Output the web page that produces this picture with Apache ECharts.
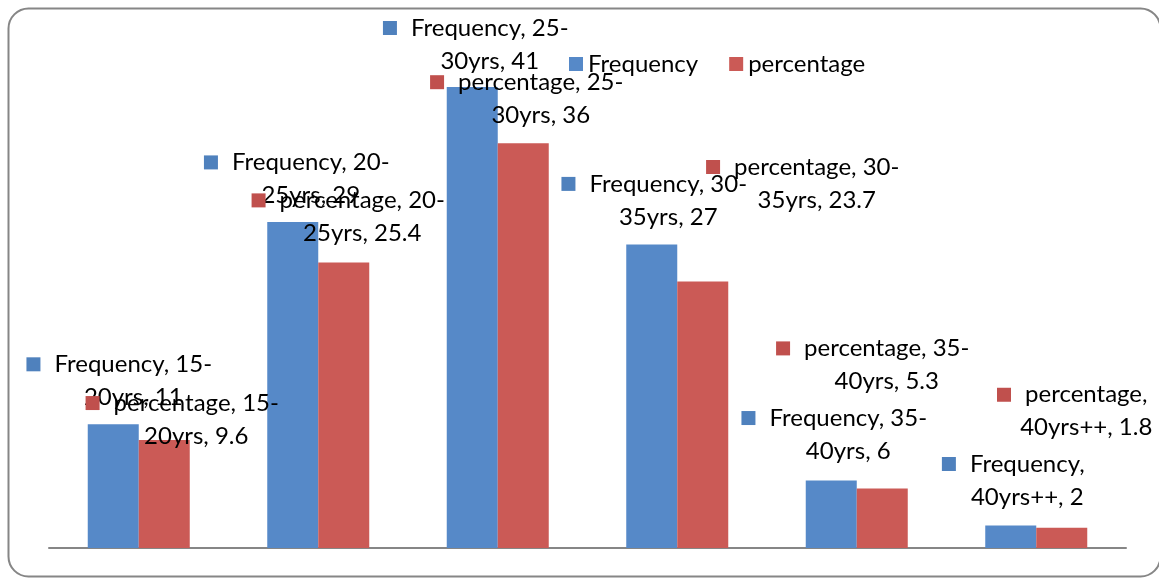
<!DOCTYPE html>
<html>
<head>
<meta charset="utf-8">
<script src="https://cdn.jsdelivr.net/npm/echarts@6/dist/echarts.min.js"></script>
<style>
  html, body { margin: 0; padding: 0; background: #fff; }
  #main { width: 1159px; height: 578px; }
</style>
</head>
<body>
<div id="main"></div>
<script>
var categories = ["15-20yrs", "20-25yrs", "25-30yrs", "30-35yrs", "35-40yrs", "40yrs++"];
var frequency = [11, 29, 41, 27, 6, 2];
var percentage = [9.6, 25.4, 36, 23.7, 5.3, 1.8];

// where each data label sits, relative to the top of its bar
var freqLabelOffset = [[6, -10.5], [4, -10], [3.5, -9.5], [2.5, -11], [3, -13], [2.5, -12]];
var pctLabelOffset = [[18, 12.5], [4.5, -12.5], [3.5, -11.5], [100, -65], [-9.5, -90.5], [10.5, -83.5]];

var FONT = "Lato";
var FS = 24;
var LH = 33;

function labelText(seriesName, cat, value) {
  var line1, line2;
  var dash = cat.indexOf("-");
  if (dash >= 0) {
    line1 = seriesName + ", " + cat.slice(0, dash + 1);
    line2 = cat.slice(dash + 1) + ", " + value;
  } else {
    line1 = seriesName + ",";
    line2 = cat + ", " + value;
  }
  return "{k|}{g|}{t|" + line1 + "}\n{s|}{t|" + line2 + "}";
}

function richFor(color) {
  return {
    k: { width: 14, height: 14, backgroundColor: color, lineHeight: LH },
    g: { width: 14, lineHeight: LH },
    s: { width: 28, lineHeight: LH },
    t: { fontFamily: FONT, fontSize: FS, color: "#000", lineHeight: LH }
  };
}

function makeData(values, offsets) {
  return values.map(function (v, i) {
    return { value: v, label: { offset: offsets[i] } };
  });
}

var chartDom = document.getElementById("main");
var myChart = echarts.init(chartDom);
var option;

option = {
  animation: false,
  graphic: [
    {
      type: "rect",
      shape: { x: 8.5, y: 8.5, width: 1152, height: 568, r: 20 },
      style: { fill: "none", stroke: "#868686", lineWidth: 2 },
      silent: true,
      z: -1
    }
  ],
  legend: {
    data: ["Frequency", "percentage"],
    left: 564,
    top: 47,
    icon: "rect",
    itemWidth: 14,
    itemHeight: 14,
    itemGap: 31,
    textStyle: { fontFamily: FONT, fontSize: FS, color: "#000" }
  },
  grid: { left: 49, right: 33, top: 42, bottom: 30, containLabel: false },
  xAxis: {
    type: "category",
    data: categories,
    axisLine: { lineStyle: { color: "#868686", width: 2 } },
    axisTick: { show: false },
    axisLabel: { show: false }
  },
  yAxis: {
    type: "value",
    min: 0,
    max: 45,
    show: false,
    splitLine: { show: false }
  },
  series: [
    {
      name: "Frequency",
      type: "bar",
      barWidth: 51,
      barGap: "0%",
      itemStyle: { color: "#5689c8" },
      data: makeData(frequency, freqLabelOffset),
      label: {
        show: true,
        position: "top",
        distance: 0,
        align: "center",
        fontFamily: FONT,
        fontSize: FS,
        lineHeight: LH,
        color: "#000",
        formatter: function (p) { return labelText(p.seriesName, p.name, p.value); },
        rich: richFor("#4f81bd")
      }
    },
    {
      name: "percentage",
      type: "bar",
      barWidth: 51,
      barGap: "0%",
      itemStyle: { color: "#cb5a56" },
      data: makeData(percentage, pctLabelOffset),
      label: {
        show: true,
        position: "top",
        distance: 0,
        align: "center",
        fontFamily: FONT,
        fontSize: FS,
        lineHeight: LH,
        color: "#000",
        formatter: function (p) { return labelText(p.seriesName, p.name, p.value); },
        rich: richFor("#c0504d")
      }
    }
  ]
};

option && myChart.setOption(option);
</script>
</body>
</html>
